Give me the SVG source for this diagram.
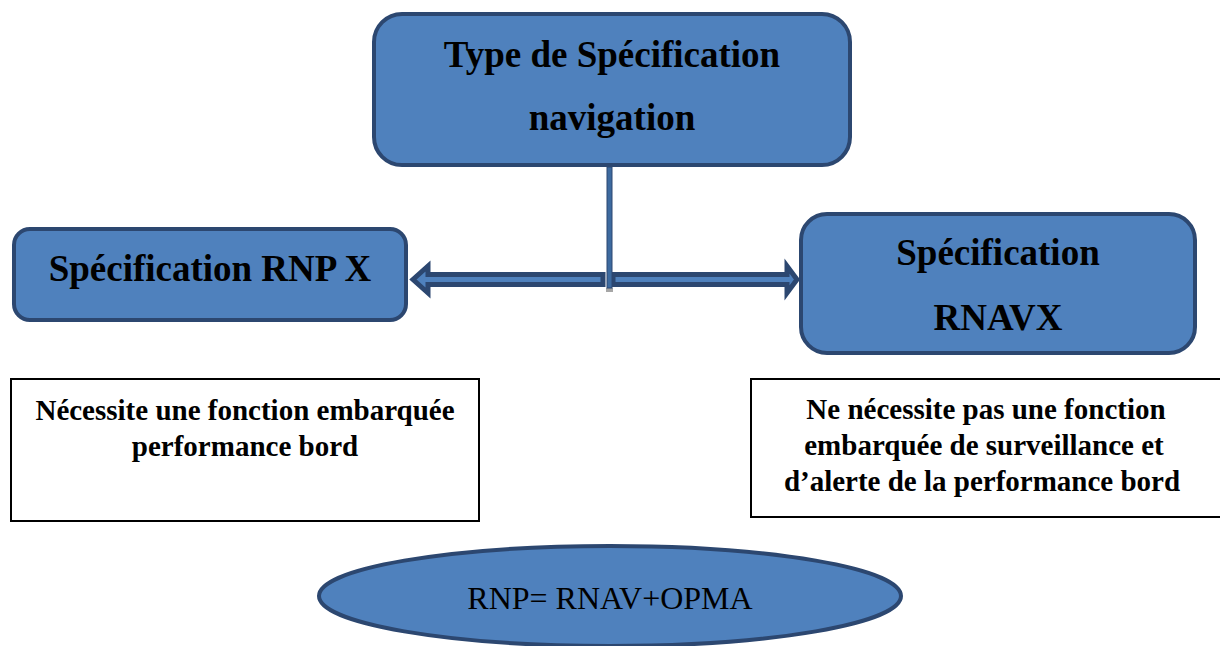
<svg xmlns="http://www.w3.org/2000/svg" width="1220" height="646" viewBox="0 0 1220 646">
  <style>
    .spec { fill: #4f81bd; stroke: #2c4770; stroke-width: 4; }
    .note { fill: #ffffff; stroke: #000000; stroke-width: 2; }
    text { font-family: 'Liberation Serif', 'DejaVu Serif', serif; fill: #000; text-anchor: middle; }
    .big { font-weight: bold; font-size: 37px; }
    .small { font-weight: bold; font-size: 29px; }
    .formula { font-size: 32px; }
    .arrow { fill: #4f81bd; stroke: #2c4770; stroke-width: 5; stroke-linejoin: miter; }
  </style>

  <!-- connectors: stem from the top box and the two block arrows -->
  <g id="connectors">
    <polygon class="arrow" points="603,274.5 428,274.5 428,266 413,279.5 428,293 428,284.5 603,284.5"/>
    <polygon class="arrow" points="613,274.5 787,274.5 787,266 797,279.5 787,293 787,284.5 613,284.5"/>
    <rect x="606" y="288" width="7" height="4" fill="#a6a6a6"/>
    <rect x="607" y="167" width="5" height="121" fill="#3d6a9f" stroke="#2c4770" stroke-width="1"/>
  </g>

  <g id="type-navigation">
    <rect class="spec" x="374" y="14" width="476" height="151" rx="28" ry="28"/>
    <text class="big" x="612" y="67">Type de Spécification</text>
    <text class="big" x="612" y="130">navigation</text>
  </g>

  <g id="rnp-x">
    <rect class="spec" x="14" y="229" width="392" height="91" rx="16" ry="16"/>
    <text class="big" x="210" y="281">Spécification RNP X</text>
  </g>

  <g id="rnav-x">
    <rect class="spec" x="801" y="214" width="394" height="139" rx="26" ry="26"/>
    <text class="big" x="998" y="265">Spécification</text>
    <text class="big" x="998" y="330">RNAVX</text>
  </g>

  <g id="rnp-note">
    <rect class="note" x="11" y="379" width="468" height="142"/>
    <text class="small" x="245" y="420">Nécessite une fonction embarquée</text>
    <text class="small" x="245" y="456">performance bord</text>
  </g>

  <g id="rnav-note">
    <rect class="note" x="751" y="379" width="480" height="138"/>
    <text class="small" x="986" y="419">Ne nécessite pas une fonction</text>
    <text class="small" x="984" y="455">embarquée de surveillance et</text>
    <text class="small" x="982" y="491">d’alerte de la performance bord</text>
  </g>

  <g id="formula">
    <ellipse class="spec" cx="610" cy="596" rx="291" ry="50"/>
    <text class="formula" x="610" y="609">RNP= RNAV+OPMA</text>
  </g>
</svg>
